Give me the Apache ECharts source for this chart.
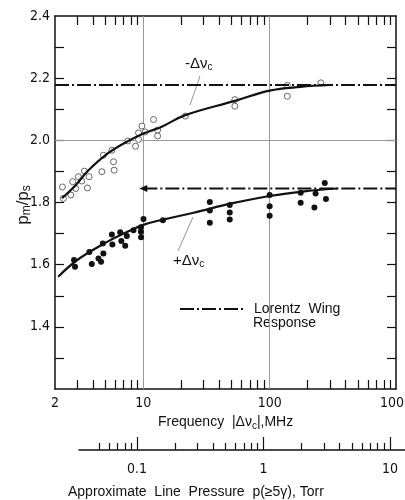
<!DOCTYPE html>
<html>
<head>
<meta charset="utf-8">
<script src="https://cdn.jsdelivr.net/npm/echarts@6/dist/echarts.min.js"></script>
<style>
html, body { margin: 0; padding: 0; background: #fff; }
#chart { width: 405px; height: 500px; }
</style>
</head>
<body>
<div id="chart"></div>
<script>
// -Δνc 测量点 (open circles)
var minusFreq = [2.29, 2.33, 2.67, 2.76, 2.92, 3.06, 3.26, 3.42, 3.61, 3.72, 4.70, 4.83, 5.64, 5.81, 5.88, 7.55, 8.68, 9.17, 9.17, 9.75, 10.35, 12.05, 12.97, 12.97, 21.5, 53, 53, 138, 138, 254];
var minusRatio = [1.850, 1.813, 1.824, 1.867, 1.845, 1.883, 1.869, 1.901, 1.847, 1.883, 1.899, 1.952, 1.968, 1.931, 1.904, 1.998, 1.981, 2.024, 2.003, 2.046, 2.027, 2.067, 2.033, 2.014, 2.078, 2.131, 2.110, 2.177, 2.142, 2.185];

// +Δνc 测量点 (filled dots)
var plusFreq = [2.83, 2.88, 3.74, 3.91, 4.42, 4.63, 4.78, 4.83, 5.64, 5.69, 6.56, 6.70, 7.19, 7.40, 8.36, 9.57, 9.57, 9.6, 10.04, 14.3, 33.6, 33.6, 33.6, 48.3, 48.3, 48.3, 100, 100, 100, 176, 176, 231, 226, 273, 279];
var plusRatio = [1.615, 1.593, 1.641, 1.602, 1.620, 1.609, 1.668, 1.636, 1.697, 1.665, 1.704, 1.676, 1.661, 1.692, 1.711, 1.720, 1.706, 1.688, 1.747, 1.743, 1.802, 1.774, 1.735, 1.792, 1.768, 1.745, 1.824, 1.788, 1.757, 1.831, 1.799, 1.829, 1.784, 1.863, 1.811];

// 拟合曲线
var minusFitFreq = [2.27, 2.9, 3.6, 5, 7, 10, 11.35, 14, 21.5, 53, 100, 176, 300];
var minusFitRatio = [1.814, 1.855, 1.90, 1.952, 1.99, 2.022, 2.03, 2.044, 2.081, 2.127, 2.160, 2.172, 2.178];
var plusFitFreq = [2.12, 3, 5, 7, 10, 14.3, 25, 50, 100, 200, 344];
var plusFitRatio = [1.561, 1.615, 1.670, 1.70, 1.728, 1.745, 1.767, 1.797, 1.821, 1.837, 1.845];

// Lorentz wing response
var lorentzMinusFreq = [2, 1000];
var lorentzMinusRatio = [2.178, 2.178];
var lorentzPlusFreq = [10, 1000];
var lorentzPlusRatio = [1.845, 1.845];

// 刻度
var freqLabels = [2, 10, 100, 1000];
var freqTicks = [3, 4, 5, 6, 7, 8, 9, 20, 30, 40, 50, 60, 70, 80, 90, 200, 300, 400, 500, 600, 700, 800, 900];
var freqGridLines = [10, 100];
var ratioLabels = [1.4, 1.6, 1.8, 2.0, 2.2, 2.4];
var ratioTicks = [1.3, 1.4, 1.5, 1.6, 1.7, 1.8, 1.9, 2.0, 2.1, 2.2, 2.3];
var ratioGridLines = [2.0];
var pressureLabels = [0.1, 1, 10];
var pressureMinorTicks = [0.05, 0.06, 0.07, 0.08, 0.09, 0.2, 0.3, 0.4, 0.5, 0.6, 0.7, 0.8, 0.9, 2, 3, 4, 5, 6, 7, 8, 9];

function pairs(xs, ys) {
  return xs.map(function (x, i) { return [x, ys[i]]; });
}

var INK = '#111';
var FONT = 'Liberation Sans, Arial, sans-serif';
var NARROW = "'Liberation Sans Narrow', 'DejaVu Sans Condensed', sans-serif";
var DASHDOT = [14, 3, 2, 3];
var subRich = { sub: { fontSize: 10, fontFamily: FONT, color: INK, padding: [8, 0, 0, 0] } };
var lineStyle = { color: INK, width: 1.5 };
var tickStyle = { color: INK, width: 1.2 };

// 边框坐标轴 (grid 1, 不挂系列)
function frameFreqAxis(pos, showLabel) {
  return {
    type: 'log', logBase: 10, gridIndex: 1, position: pos, min: 2, max: 1000,
    axisLine: { show: true, onZero: false, lineStyle: lineStyle },
    axisTick: { show: true, inside: true, length: 9, customValues: freqTicks, lineStyle: tickStyle },
    axisLabel: {
      show: showLabel, customValues: freqLabels, margin: 7, color: INK, fontSize: 14, fontFamily: NARROW,
      formatter: function (v) { return String(v); }
    },
    splitLine: { show: false }
  };
}

function frameRatioAxis(pos, showLabel) {
  return {
    type: 'value', gridIndex: 1, position: pos, min: 1.2, max: 2.4, interval: 0.2,
    axisLine: { show: true, onZero: false, lineStyle: lineStyle },
    axisTick: { show: true, inside: true, length: 9, customValues: ratioTicks, lineStyle: tickStyle },
    axisLabel: {
      show: showLabel, customValues: ratioLabels, margin: 5, color: INK, fontSize: 14, fontFamily: NARROW,
      formatter: function (v) { return v.toFixed(1); }
    },
    splitLine: { show: false }
  };
}

function pressureAxis(ticks, len, showLine, showLabel) {
  return {
    type: 'log', logBase: 10, gridIndex: 2, position: 'bottom', min: 0.03478, max: 13.14,
    axisLine: { show: showLine, onZero: false, lineStyle: lineStyle },
    axisTick: { show: true, inside: true, length: len, customValues: ticks, lineStyle: tickStyle },
    axisLabel: {
      show: showLabel, customValues: pressureLabels, margin: 12, color: INK, fontSize: 14, fontFamily: NARROW,
      formatter: function (v) { return String(v); }
    },
    splitLine: { show: false }
  };
}

var chart = echarts.init(document.getElementById('chart'));

chart.setOption({
  animation: false,
  backgroundColor: '#fff',
  textStyle: { fontFamily: FONT, color: INK },
  grid: [
    { left: 55, right: 9, top: 16, bottom: 111, outerBoundsMode: 'none' },
    { left: 55, right: 9, top: 16, bottom: 111, outerBoundsMode: 'none' },
    { left: 79, right: 0, top: 440, height: 10, outerBoundsMode: 'none' }
  ],
  xAxis: [
    { type: 'log', logBase: 10, gridIndex: 0, min: 2, max: 1000, show: false },
    frameFreqAxis('bottom', true),
    frameFreqAxis('top', false),
    pressureAxis(pressureMinorTicks, 7, true, true),
    pressureAxis(pressureLabels, 13, false, false)
  ],
  yAxis: [
    { type: 'value', gridIndex: 0, min: 1.2, max: 2.4, show: false },
    frameRatioAxis('left', true),
    frameRatioAxis('right', false),
    { type: 'value', gridIndex: 2, show: false, min: 0, max: 1 }
  ],
  legend: {
    left: 174, top: 297,
    data: ['Lorentz Wing Response'],
    itemWidth: 66, itemHeight: 10,
    itemStyle: { opacity: 0 },
    formatter: function () { return 'Lorentz  Wing'; },
    textStyle: { color: INK, fontSize: 14, fontFamily: FONT, padding: [0, 0, 0, 3] }
  },
  title: {
    text: 'Approximate  Line  Pressure  p(≥5γ), Torr',
    left: 63, top: 480,
    textStyle: { color: INK, fontSize: 14, fontWeight: 'normal', fontFamily: FONT }
  },
  graphic: [
    // 轴标题
    { type: 'text', left: 158, top: 415, style: { text: 'Frequency  |Δν{sub|c}|,MHz', fill: INK, font: '14px ' + FONT, rich: subRich } },
    {
      type: 'text', x: 23, y: 205, rotation: Math.PI / 2,
      style: {
        text: 'p{sub|m}/p{sub|s}', fill: INK, font: '17px ' + FONT, align: 'center', verticalAlign: 'middle',
        rich: { sub: { fontSize: 12, fontFamily: FONT, color: INK, padding: [8, 0, 0, 0] } }
      }
    },
    { type: 'text', left: 253, top: 316, style: { text: 'Response', fill: INK, font: '14px ' + FONT } },
    { type: 'text', left: 185, top: 56, style: { text: '-Δν{sub|c}', fill: INK, font: '15px ' + FONT, rich: subRich } },
    { type: 'line', shape: { x1: 200, y1: 76, x2: 190, y2: 105 }, style: { stroke: '#777', lineWidth: 0.8 } },
    { type: 'text', left: 173, top: 253, style: { text: '+Δν{sub|c}', fill: INK, font: '15px ' + FONT, rich: subRich } },
    { type: 'line', shape: { x1: 193, y1: 217, x2: 178, y2: 251 }, style: { stroke: '#777', lineWidth: 0.8 } }
  ],
  series: [
    {
      name: 'Lorentz Wing Response', type: 'line', xAxisIndex: 0, yAxisIndex: 0,
      data: pairs(lorentzMinusFreq, lorentzMinusRatio), symbol: 'none',
      itemStyle: { color: INK },
      lineStyle: { color: INK, width: 2, type: DASHDOT },
      // 网格线
      markLine: {
        silent: true, symbol: 'none', label: { show: false }, z: 1,
        lineStyle: { color: '#999', width: 1, type: 'solid' },
        data: freqGridLines.map(function (f) { return { xAxis: f }; })
          .concat(ratioGridLines.map(function (r) { return { yAxis: r }; }))
      }
    },
    {
      type: 'line', xAxisIndex: 0, yAxisIndex: 0, symbol: 'none',
      data: pairs(lorentzPlusFreq, lorentzPlusRatio).map(function (p, i) {
        return i === 0 ? { value: p, symbol: 'triangle', symbolRotate: 90, symbolSize: [7, 8], itemStyle: { color: INK } } : { value: p };
      }),
      showAllSymbol: true,
      lineStyle: { color: INK, width: 2, type: DASHDOT }
    },
    {
      type: 'line', xAxisIndex: 0, yAxisIndex: 0, smooth: 0.4, symbol: 'none',
      data: pairs(minusFitFreq, minusFitRatio),
      lineStyle: { color: INK, width: 2.2 }
    },
    {
      type: 'line', xAxisIndex: 0, yAxisIndex: 0, smooth: 0.4, symbol: 'none',
      data: pairs(plusFitFreq, plusFitRatio),
      lineStyle: { color: INK, width: 2.2 }
    },
    {
      type: 'scatter', xAxisIndex: 0, yAxisIndex: 0, symbol: 'circle', symbolSize: 6,
      data: pairs(minusFreq, minusRatio),
      itemStyle: { color: '#fff', borderColor: '#666', borderWidth: 1, opacity: 1 }
    },
    {
      type: 'scatter', xAxisIndex: 0, yAxisIndex: 0, symbol: 'circle', symbolSize: 6,
      data: pairs(plusFreq, plusRatio),
      itemStyle: { color: INK, opacity: 1 }
    }
  ]
});
</script>
</body>
</html>
